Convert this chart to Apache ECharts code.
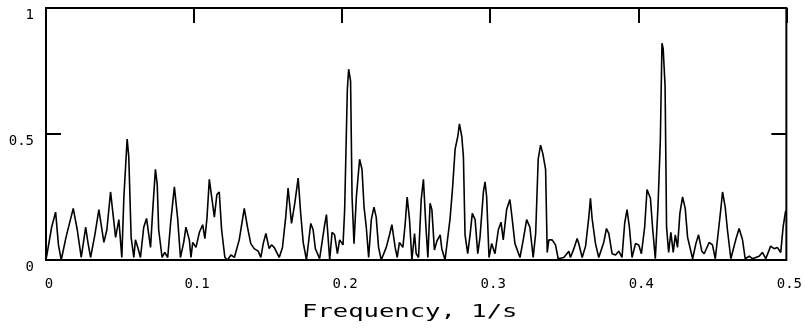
<!DOCTYPE html>
<html>
<head>
<meta charset="utf-8">
<script src="https://cdn.jsdelivr.net/npm/echarts@6/dist/echarts.min.js"></script>
<style>
html,body{margin:0;padding:0;background:#fff;}
#chart{width:805px;height:331px;}
</style>
</head>
<body>
<div id="chart"></div>
<script>
var xTicks = [0, 0.1, 0.2, 0.3, 0.4, 0.5];
var yTicks = [0, 0.5, 1];
var axisTitle = "Frequency, 1/s";

var freq = [
0.0003,0.0038,0.0065,0.0084,0.0103,0.0135,0.0184,0.0211,0.0238,0.0268,
0.0283,0.0301,0.0330,0.0357,0.0391,0.0411,0.0436,0.0470,0.0492,0.0512,
0.0526,0.0548,0.0559,0.0575,0.0593,0.0604,0.0620,0.0638,0.0660,0.0679,
0.0706,0.0721,0.0739,0.0751,0.0761,0.0784,0.0802,0.0822,0.0842,0.0867,
0.0889,0.0908,0.0930,0.0945,0.0968,0.0979,0.0991,0.1013,0.1036,0.1058,
0.1073,0.1087,0.1103,0.1119,0.1137,0.1154,0.1170,0.1186,0.1208,0.1226,
0.1249,0.1272,0.1305,0.1339,0.1361,0.1383,0.1406,0.1433,0.1451,0.1467,
0.1485,0.1507,0.1523,0.1541,0.1575,0.1597,0.1619,0.1635,0.1658,0.1680,
0.1703,0.1720,0.1737,0.1759,0.1788,0.1804,0.1819,0.1848,0.1882,0.1894,
0.1916,0.1932,0.1949,0.1968,0.1983,0.2006,0.2017,0.2035,0.2044,0.2057,
0.2067,0.2080,0.2096,0.2118,0.2134,0.2148,0.2163,0.2179,0.2197,0.2215,
0.2230,0.2246,0.2264,0.2298,0.2320,0.2336,0.2358,0.2372,0.2387,0.2410,
0.2426,0.2439,0.2455,0.2471,0.2489,0.2500,0.2516,0.2534,0.2549,0.2565,
0.2579,0.2594,0.2606,0.2623,0.2640,0.2662,0.2673,0.2695,0.2729,0.2745,
0.2763,0.2781,0.2792,0.2808,0.2819,0.2830,0.2848,0.2864,0.2879,0.2898,
0.2916,0.2931,0.2954,0.2965,0.2976,0.2992,0.3010,0.3032,0.3055,0.3073,
0.3088,0.3111,0.3133,0.3149,0.3167,0.3201,0.3223,0.3246,0.3268,0.3290,
0.3307,0.3324,0.3340,0.3356,0.3374,0.3385,0.3396,0.3418,0.3441,0.3459,
0.3497,0.3531,0.3542,0.3565,0.3587,0.3598,0.3621,0.3644,0.3666,0.3677,
0.3688,0.3711,0.3733,0.3767,0.3785,0.3801,0.3823,0.3846,0.3868,0.3890,
0.3908,0.3924,0.3940,0.3958,0.3981,0.4003,0.4021,0.4043,0.4059,0.4082,
0.4097,0.4115,0.4133,0.4149,0.4160,0.4168,0.4181,0.4191,0.4205,0.4220,
0.4236,0.4250,0.4265,0.4281,0.4299,0.4317,0.4333,0.4367,0.4389,0.4407,
0.4429,0.4445,0.4479,0.4501,0.4520,0.4542,0.4557,0.4569,0.4587,0.4602,
0.4625,0.4658,0.4681,0.4704,0.4722,0.4749,0.4771,0.4816,0.4838,0.4861,
0.4894,0.4917,0.4939,0.4962,0.4978,0.4995
];

var power = [
0.01,0.13,0.19,0.06,0.00,0.09,0.205,0.12,0.01,0.13,
0.07,0.01,0.10,0.20,0.07,0.12,0.27,0.09,0.16,0.01,
0.25,0.48,0.41,0.09,0.01,0.08,0.05,0.01,0.13,0.165,
0.05,0.20,0.36,0.30,0.12,0.01,0.03,0.01,0.15,0.29,
0.165,0.01,0.07,0.13,0.08,0.01,0.07,0.05,0.11,0.14,
0.085,0.165,0.32,0.25,0.17,0.26,0.27,0.12,0.01,0.00,
0.02,0.01,0.08,0.205,0.13,0.065,0.045,0.035,0.01,0.065,
0.105,0.045,0.06,0.05,0.01,0.05,0.17,0.285,0.145,0.225,
0.325,0.185,0.07,0.00,0.145,0.12,0.045,0.005,0.14,0.18,
0.00,0.11,0.10,0.025,0.08,0.06,0.20,0.675,0.757,0.71,
0.25,0.065,0.25,0.40,0.36,0.21,0.13,0.01,0.16,0.21,
0.17,0.05,0.00,0.05,0.10,0.14,0.05,0.01,0.07,0.05,
0.145,0.25,0.16,0.00,0.105,0.025,0.01,0.24,0.32,0.14,
0.01,0.225,0.20,0.04,0.075,0.10,0.045,0.00,0.165,0.28,
0.44,0.49,0.54,0.49,0.41,0.10,0.025,0.10,0.185,0.16,
0.025,0.09,0.27,0.31,0.25,0.01,0.065,0.025,0.12,0.15,
0.08,0.20,0.24,0.16,0.065,0.01,0.08,0.16,0.13,0.01,
0.105,0.40,0.456,0.42,0.36,0.03,0.08,0.08,0.06,0.005,
0.01,0.035,0.01,0.045,0.085,0.065,0.01,0.055,0.17,0.245,
0.165,0.065,0.01,0.07,0.125,0.105,0.025,0.02,0.035,0.01,
0.145,0.20,0.13,0.01,0.065,0.06,0.025,0.13,0.28,0.245,
0.125,0.005,0.21,0.476,0.86,0.84,0.69,0.13,0.03,0.11,
0.03,0.10,0.05,0.185,0.25,0.205,0.09,0.005,0.065,0.10,
0.035,0.025,0.07,0.06,0.005,0.12,0.20,0.27,0.21,0.12,
0.005,0.08,0.125,0.08,0.005,0.015,0.005,0.015,0.03,0.005,
0.055,0.045,0.05,0.03,0.13,0.195
];

var seriesData = freq.map(function (f, i) { return [f, power[i]]; });

var chart = echarts.init(document.getElementById('chart'), null, {renderer: 'canvas'});
var labelFont = '"DejaVu Sans Mono", monospace';
var tickStyle = {show: true, inside: true, length: 15, lineStyle: {color: '#000', width: 2}};
var option = {
  animation: false,
  backgroundColor: '#ffffff',
  grid: {left: 46, right: 17, top: 8, bottom: 71, show: true, borderColor: '#000', borderWidth: 2, backgroundColor: 'transparent'},
  xAxis: [
    {
      type: 'value', position: 'bottom', min: xTicks[0], max: xTicks[xTicks.length - 1], interval: 0.1,
      axisLine: {show: false, onZero: false}, axisTick: {show: false}, splitLine: {show: false},
      axisLabel: {color: '#000', fontFamily: labelFont, fontSize: 14, margin: 17, padding: [0, 0, 0, 6],
        formatter: function (v) { return String(Math.round(v * 10) / 10); }}
    },
    {
      type: 'value', position: 'top', min: xTicks[0], max: xTicks[xTicks.length - 1], interval: 0.1,
      axisLine: {show: false, onZero: false}, splitLine: {show: false}, axisLabel: {show: false},
      axisTick: tickStyle
    }
  ],
  yAxis: [
    {
      type: 'value', position: 'left', min: yTicks[0], max: yTicks[yTicks.length - 1], interval: 0.5,
      axisLine: {show: false, onZero: false}, splitLine: {show: false},
      axisTick: tickStyle,
      axisLabel: {color: '#000', fontFamily: labelFont, fontSize: 14, margin: 12, verticalAlign: 'top'}
    },
    {
      type: 'value', position: 'right', min: yTicks[0], max: yTicks[yTicks.length - 1], interval: 0.5,
      axisLine: {show: false, onZero: false}, splitLine: {show: false}, axisLabel: {show: false},
      axisTick: tickStyle
    }
  ],
  graphic: [{
    type: 'text', left: 302, top: 303, scaleX: 1.42,
    style: {text: axisTitle, fill: '#000', font: '18px "DejaVu Sans Mono", monospace'}
  }],
  series: [{
    type: 'line', xAxisIndex: 0, yAxisIndex: 0, data: seriesData,
    showSymbol: false, symbol: 'none',
    lineStyle: {color: '#000', width: 1.6}
  }]
};
chart.setOption(option);
</script>
</body>
</html>
